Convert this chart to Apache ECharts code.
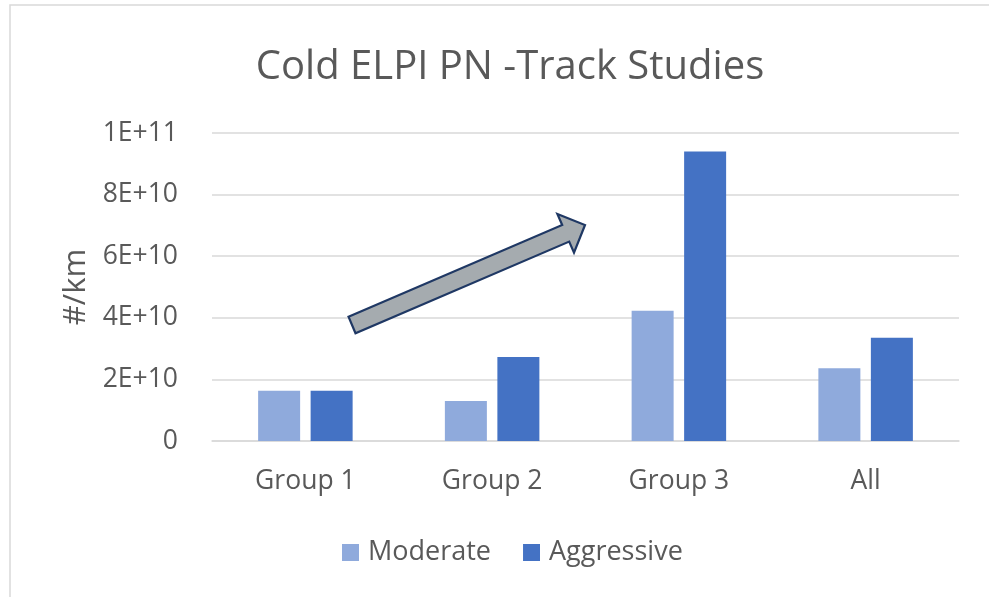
<!DOCTYPE html>
<html>
<head>
<meta charset="utf-8">
<script src="https://cdn.jsdelivr.net/npm/echarts@6/dist/echarts.min.js"></script>
<style>
html,body{margin:0;padding:0;background:#fff;}
#chart{width:989px;height:597px;}
</style>
</head>
<body>
<div id="chart"></div>
<script>
var categories = ['Group 1', 'Group 2', 'Group 3', 'All'];
var moderate = [1.63e10, 1.30e10, 4.23e10, 2.36e10];
var aggressive = [1.63e10, 2.73e10, 9.40e10, 3.35e10];
var yTickLabels = ['0', '2E+10', '4E+10', '6E+10', '8E+10', '1E+11'];
var yStep = 2e10;

var FONT = "'Open Sans', 'Noto Sans', sans-serif";
var chart = echarts.init(document.getElementById('chart'), null, {renderer: 'canvas'});
var option = {
  backgroundColor: '#ffffff',
  animation: false,
  title: {
    text: 'Cold ELPI PN -Track Studies',
    left: 505, top: 43, textAlign: 'center',
    textStyle: {fontFamily: FONT, fontSize: 40, fontWeight: 'normal', color: '#595959'}
  },
  legend: {
    data: ['Moderate', 'Aggressive'],
    left: 337, top: 534,
    itemWidth: 17, itemHeight: 17, itemGap: 32,
    icon: 'rect',
    textStyle: {fontFamily: FONT, fontSize: 27, color: '#595959', padding: [0, 0, 0, 4]}
  },
  grid: {left: 212, right: 30, top: 133, bottom: 156, containLabel: false},
  xAxis: {
    type: 'category', data: categories,
    axisLine: {lineStyle: {color: '#D9D9D9', width: 1.5}},
    axisTick: {show: false},
    axisLabel: {fontFamily: FONT, fontSize: 26.5, color: '#595959', margin: 27}
  },
  yAxis: {
    type: 'value', min: 0, max: 1e11, interval: yStep,
    name: '#/km', nameLocation: 'middle', nameGap: 117,
    nameTextStyle: {fontFamily: FONT, fontSize: 31, color: '#595959'},
    axisLine: {show: false}, axisTick: {show: false},
    splitLine: {lineStyle: {color: '#D9D9D9', width: 1.5}},
    axisLabel: {
      fontFamily: FONT, fontSize: 26.5, color: '#595959', margin: 34,
      formatter: function (v) { return yTickLabels[Math.round(v / yStep)]; }
    }
  },
  series: [
    {name: 'Moderate', type: 'bar', data: moderate, barWidth: 42, barGap: '25%',
     itemStyle: {color: '#8FAADC'}},
    {name: 'Aggressive', type: 'bar', data: aggressive, barWidth: 42, barGap: '25%',
     itemStyle: {color: '#4472C4'}}
  ],
  graphic: [
    {type: 'rect', z: -10, silent: true,
     shape: {x: 10, y: 5, width: 1000, height: 620},
     style: {fill: 'none', stroke: '#D9D9D9', lineWidth: 1.5}},
    {type: 'polygon', z: 100, silent: true,
     shape: {points: [[348.5,316.7],[562.2,225.0],[557.4,214.0],[585,225],[574.0,252.6],[569.2,241.6],[355.5,333.3]]},
     style: {fill: '#A5ABAF', stroke: '#1F3864', lineWidth: 2.2, lineJoin: 'miter'}}
  ]
};
chart.setOption(option);
</script>
</body>
</html>
